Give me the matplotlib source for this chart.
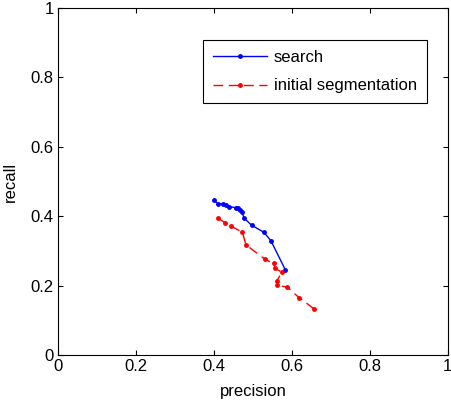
import matplotlib
matplotlib.use("Agg")
import matplotlib.pyplot as plt

# precision / recall points
search_precision = [0.400, 0.411, 0.422, 0.430, 0.438, 0.456, 0.462, 0.467, 0.472,
                    0.478, 0.497, 0.528, 0.546, 0.583]
search_recall = [0.446, 0.436, 0.436, 0.434, 0.428, 0.425, 0.423, 0.418, 0.411,
                 0.394, 0.374, 0.354, 0.330, 0.246]

init_precision = [0.410, 0.429, 0.445, 0.473, 0.482, 0.531, 0.553, 0.557, 0.574,
                  0.562, 0.562, 0.588, 0.618, 0.656]
init_recall = [0.395, 0.381, 0.371, 0.354, 0.318, 0.276, 0.264, 0.250, 0.239,
               0.215, 0.201, 0.196, 0.166, 0.134]

ticks = [0, 0.2, 0.4, 0.6, 0.8, 1]
tick_labels = ["0", "0.2", "0.4", "0.6", "0.8", "1"]

plt.rcParams['font.family'] = ['Liberation Sans', 'DejaVu Sans']

fig = plt.figure(figsize=(4.51, 4.04), dpi=100)
ax = fig.add_axes([0.1286, 0.121, 0.8644, 0.859])

ax.plot(search_precision, search_recall, color='blue', linestyle='-', linewidth=1,
        marker='.', markersize=5, label='search')
ax.plot(init_precision, init_recall, color='red', linestyle=(0, (7, 4)), linewidth=1,
        marker='.', markersize=5, label='initial segmentation')

ax.set_xlim(0, 1)
ax.set_ylim(0, 1)
ax.set_xticks(ticks)
ax.set_xticklabels(tick_labels)
ax.set_yticks(ticks)
ax.set_yticklabels(tick_labels)
ax.tick_params(direction='in', top=True, right=True, labelsize=12, length=3.5, pad=3)
ax.set_xlabel('precision', fontsize=12, labelpad=7)
ax.set_ylabel('recall', fontsize=12, labelpad=9)

leg = ax.legend(loc='upper right', bbox_to_anchor=(0.946, 0.908), borderaxespad=0,
                fontsize=12, fancybox=False, framealpha=1, edgecolor='black',
                handlelength=3.25, handletextpad=0.4, borderpad=0.6, labelspacing=0.8)
leg.get_frame().set_linewidth(0.8)

fig.savefig('out.png', dpi=100)
